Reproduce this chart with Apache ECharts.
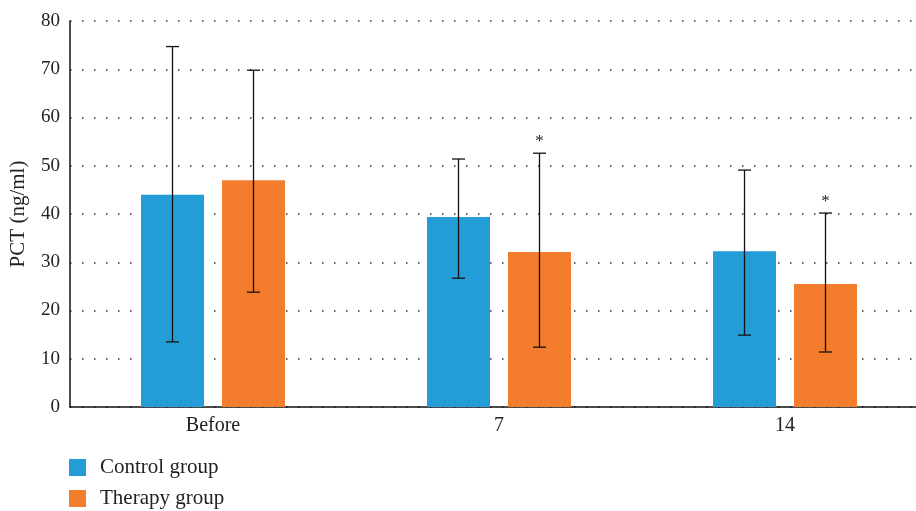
<!DOCTYPE html>
<html>
<head>
<meta charset="utf-8">
<script src="https://cdn.jsdelivr.net/npm/echarts@6/dist/echarts.min.js"></script>
<style>html,body{margin:0;padding:0;background:#fff}#c{width:916px;height:511px}</style>
</head>
<body>
<div id="c"></div>
<script>
var categories = ['Before', '7', '14'];
var seriesNames = ['Control group', 'Therapy group'];
var controlMean = [44.0, 39.4, 32.3];
var controlUpper = [74.7, 51.4, 49.1];
var controlLower = [13.5, 26.7, 14.9];
var therapyMean = [47.0, 32.1, 25.5];
var therapyUpper = [69.8, 52.6, 40.2];
var therapyLower = [23.8, 12.4, 11.4];
var therapySig = [false, true, true];
var yTicks = [0, 10, 20, 30, 40, 50, 60, 70, 80];

var FONT = '"Liberation Serif", "DejaVu Serif", serif';
var BAR_W = 63, GAP = 18;

function errData(upper, lower, sig) {
  return categories.map(function (c, i) { return [i, upper[i], lower[i], sig ? (sig[i] ? 1 : 0) : 0]; });
}

function makeRender(side) {
  return function (params, api) {
    var idx = api.value(0);
    var top = api.coord([idx, api.value(1)]);
    var bot = api.coord([idx, api.value(2)]);
    var x = top[0] + side * (BAR_W + GAP) / 2;
    var cap = 6.5;
    var st = { stroke: '#111', lineWidth: 1.3 };
    var children = [
      { type: 'line', shape: { x1: x, y1: top[1], x2: x, y2: bot[1] }, style: st },
      { type: 'line', shape: { x1: x - cap, y1: top[1], x2: x + cap, y2: top[1] }, style: st },
      { type: 'line', shape: { x1: x - cap, y1: bot[1], x2: x + cap, y2: bot[1] }, style: st }
    ];
    if (api.value(3) === 1) {
      children.push({ type: 'text', style: { text: '*', x: x, y: top[1] - 3, align: 'center', verticalAlign: 'bottom', font: '17px ' + FONT, fill: '#222' } });
    }
    return { type: 'group', children: children };
  };
}

function legendFor(name, top) {
  return {
    left: 69, top: top, padding: 0, icon: 'rect', itemWidth: 17, itemHeight: 17,
    textStyle: { fontFamily: FONT, fontSize: 21, color: '#222', padding: [0, 0, 0, 9] },
    data: [name]
  };
}

var chart = echarts.init(document.getElementById('c'));
chart.setOption({
  animation: false,
  backgroundColor: '#fff',
  grid: { left: 70, top: 21, width: 858, height: 386, outerBoundsMode: 'none', containLabel: false },
  legend: [legendFor(seriesNames[0], 457), legendFor(seriesNames[1], 488)],
  xAxis: {
    type: 'category', data: categories,
    axisLine: { lineStyle: { color: '#111', width: 1.5 } },
    axisTick: { show: false },
    axisLabel: { fontFamily: FONT, fontSize: 20, color: '#222', margin: 9 }
  },
  yAxis: {
    type: 'value', min: 0, max: 80, interval: 10,
    name: 'PCT (ng/ml)', nameLocation: 'middle', nameGap: 41,
    nameTextStyle: { fontFamily: FONT, fontSize: 21, color: '#222' },
    axisLine: { show: true, lineStyle: { color: '#111', width: 1.5 } },
    axisTick: { show: false },
    axisLabel: { fontFamily: FONT, fontSize: 19, color: '#222', margin: 10,
      formatter: function (v) { return yTicks.indexOf(v) >= 0 ? String(v) : ''; } },
    splitLine: { show: true, lineStyle: { color: '#333', width: 1.5, type: [1.5, 10.5] } }
  },
  series: [
    { name: seriesNames[0], type: 'bar', data: controlMean, barWidth: BAR_W, barGap: (GAP / BAR_W * 100) + '%', itemStyle: { color: '#239dd8' }, z: 2 },
    { name: seriesNames[1], type: 'bar', data: therapyMean, barWidth: BAR_W, itemStyle: { color: '#f37c2d' }, z: 2 },
    { type: 'custom', renderItem: makeRender(-1), data: errData(controlUpper, controlLower), z: 5, silent: true },
    { type: 'custom', renderItem: makeRender(1), data: errData(therapyUpper, therapyLower, therapySig), z: 5, silent: true }
  ]
});
</script>
</body>
</html>
